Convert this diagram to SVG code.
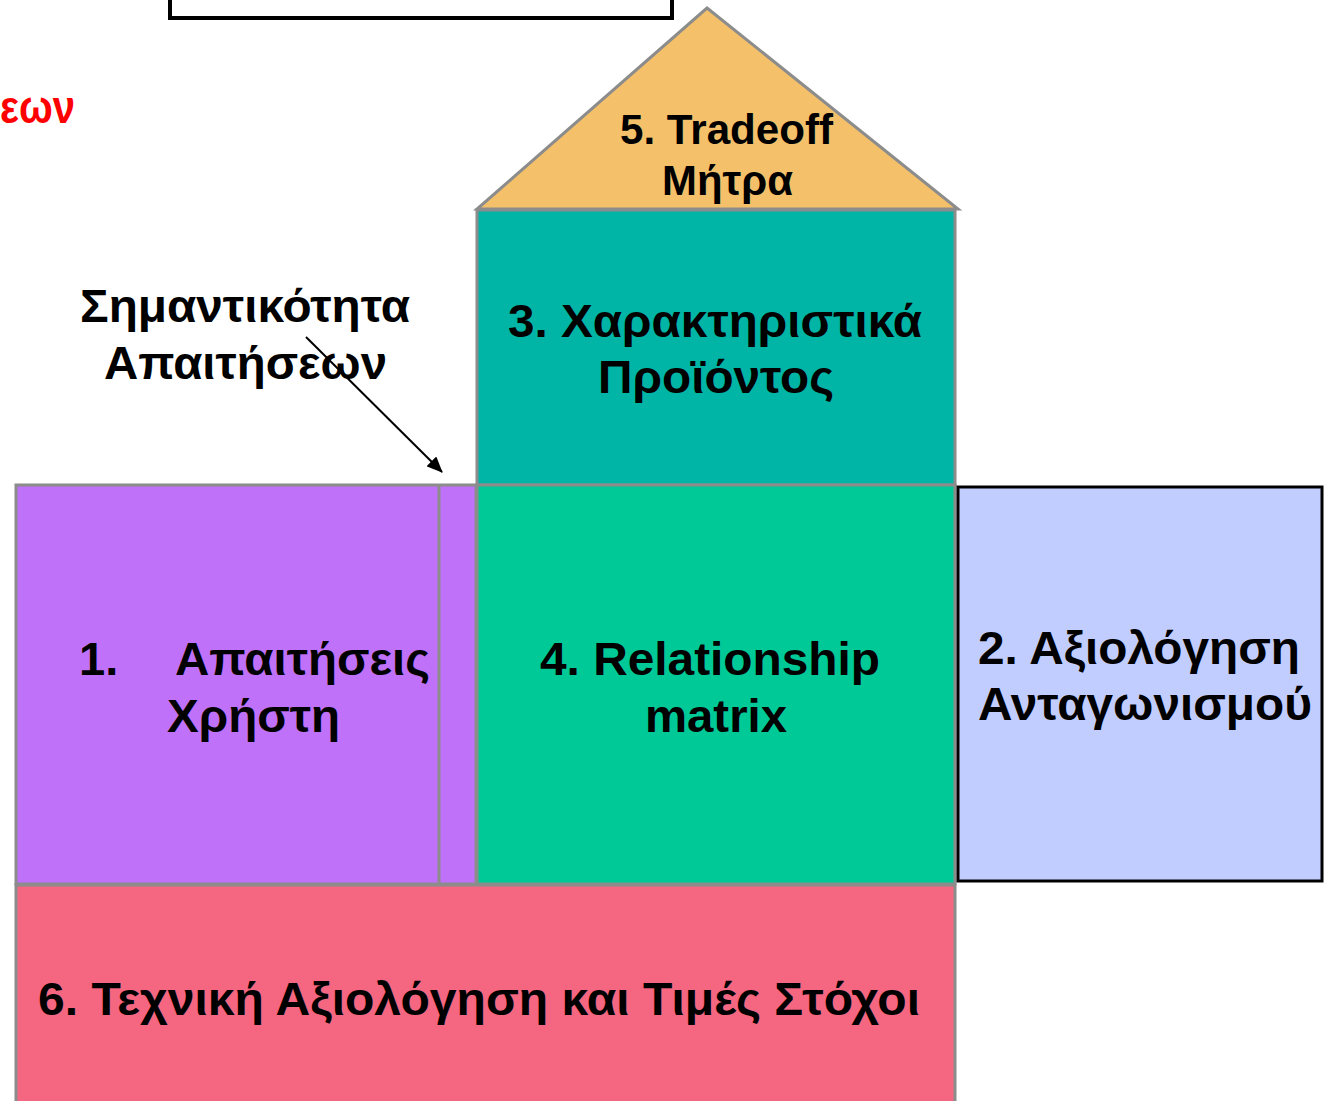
<svg xmlns="http://www.w3.org/2000/svg" width="1326" height="1101" viewBox="0 0 1326 1101">
<style>
.t{font-family:"Liberation Sans",Arial,sans-serif;font-weight:bold;font-size:47px;fill:#000}
.s{font-size:43px}
.c{text-anchor:middle}
.g{stroke:#8c8c8c;stroke-width:3}
</style>
<defs>
<marker id="ah" markerWidth="16" markerHeight="14" refX="15" refY="7" orient="auto" markerUnits="userSpaceOnUse" viewBox="0 0 16 14">
<path d="M0,0 L16,7 L0,14 Z" fill="#000"/>
</marker>
</defs>
<rect width="1326" height="1101" fill="#fff"/>
<g id="title-box">
<rect x="170" y="-20" width="502" height="38" fill="#fff" stroke="#000" stroke-width="4"/>
</g>
<g id="red-label">
<text class="t" x="0" y="123" style="fill:#ff0000" textLength="75" lengthAdjust="spacingAndGlyphs">εων</text>
</g>
<g id="node5">
<polygon class="g" points="707,8 958,209 477,209" fill="#F4C06A"/>
<text class="t s" x="620" y="144" textLength="213" lengthAdjust="spacingAndGlyphs">5. Tradeoff</text>
<text class="t s" x="662" y="195" textLength="131" lengthAdjust="spacingAndGlyphs">Μήτρα</text>
</g>
<g id="node3">
<rect class="g" x="477" y="210" width="478" height="275" fill="#00B5A6"/>
<text class="t" x="508" y="337" textLength="414" lengthAdjust="spacingAndGlyphs">3. Χαρακτηριστικά</text>
<text class="t" x="598" y="393" textLength="236" lengthAdjust="spacingAndGlyphs">Προϊόντος</text>
</g>
<g id="importance-label">
<text class="t" x="80" y="322" textLength="330" lengthAdjust="spacingAndGlyphs">Σημαντικότητα</text>
<text class="t" x="104" y="379" textLength="283" lengthAdjust="spacingAndGlyphs">Απαιτήσεων</text>
</g>
<g id="node1">
<rect class="g" x="16" y="485" width="460" height="399" fill="#BF71F9"/>
<line class="g" x1="439" y1="485" x2="439" y2="884"/>
<text class="t" x="79" y="675">1.</text>
<text class="t" x="175" y="675" textLength="255" lengthAdjust="spacingAndGlyphs">Απαιτήσεις</text>
<text class="t" x="167" y="732" textLength="173" lengthAdjust="spacingAndGlyphs">Χρήστη</text>
</g>
<g id="node4">
<rect class="g" x="477" y="485" width="478" height="399" fill="#00C998"/>
<text class="t" x="540" y="675" textLength="340" lengthAdjust="spacingAndGlyphs">4. Relationship</text>
<text class="t" x="645" y="732" textLength="142" lengthAdjust="spacingAndGlyphs">matrix</text>
</g>
<g id="node2">
<rect x="958" y="487" width="364" height="394" fill="#C2CDFF" stroke="#000" stroke-width="3"/>
<text class="t" x="978" y="664" textLength="322" lengthAdjust="spacingAndGlyphs">2. Αξιολόγηση</text>
<text class="t" x="978" y="720" textLength="334" lengthAdjust="spacingAndGlyphs">Ανταγωνισμού</text>
</g>
<g id="node6">
<rect class="g" x="16" y="885" width="939" height="230" fill="#F56681"/>
<text class="t" x="38" y="1015" textLength="882" lengthAdjust="spacingAndGlyphs">6. Τεχνική Αξιολόγηση και Τιμές Στόχοι</text>
</g>
<g id="connectors">
<line x1="306" y1="337" x2="442" y2="472" stroke="#000" stroke-width="2" marker-end="url(#ah)"/>
</g>
</svg>
